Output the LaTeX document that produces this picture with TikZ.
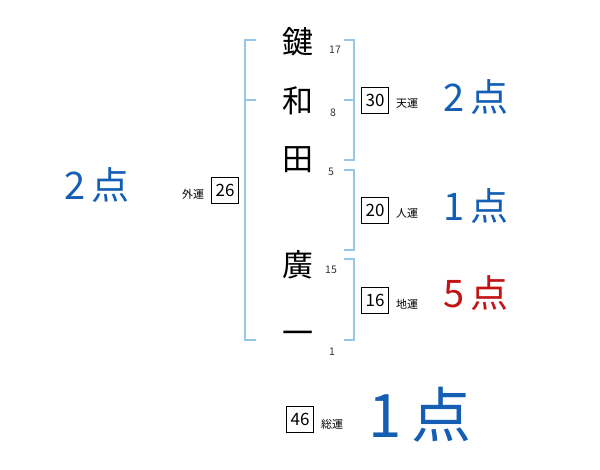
\documentclass[tikz,border=0pt]{standalone}
\usepackage{fontspec}
\setmainfont{Noto Sans CJK JP}
\definecolor{brk}{RGB}{150,198,232}
\definecolor{ptblue}{RGB}{20,95,180}
\definecolor{ptred}{RGB}{195,20,20}
\begin{document}
\begin{tikzpicture}[x=1pt,y=-1pt,
  namechar/.style={font=\fontsize{31}{31}\selectfont, inner sep=0pt},
  strokes/.style={font=\fontsize{10.5}{10.5}\selectfont, text=black!80, inner sep=0pt},
  numbox/.style={draw=black, line width=0.8pt, minimum width=27pt, minimum height=26pt, inner sep=0pt, font=\fontsize{17}{17}\selectfont},
  unlabel/.style={font=\fontsize{11}{11}\selectfont, inner sep=0pt},
  pts/.style={font=\fontsize{38}{38}\selectfont, inner sep=0pt},
  bracket/.style={draw=brk, line width=1.6pt}]
\useasboundingbox (0,0) rectangle (600,470);
% name characters
\node[namechar] (c1) at (298,42) {鍵};
\node[namechar] (c2) at (298,101) {和};
\node[namechar] (c3) at (298,160) {田};
\node[namechar] (c4) at (298,265) {廣};
\node[namechar] (c5) at (298,338) {一};
% stroke counts
\node[strokes] (s1) at (335,50) {17};
\node[strokes] (s2) at (333,113) {8};
\node[strokes] (s3) at (331,172) {5};
\node[strokes] (s4) at (331,270) {15};
\node[strokes] (s5) at (332,352) {1};
% outer bracket
\coordinate (ot) at (256,40);
\coordinate (ob) at (256,340);
\coordinate (om) at (256,100);
\draw[bracket] (ot) -- (245,40) -- (245,340) -- (ob);
\draw[bracket] (245,100) -- (om);
% right brackets
\coordinate (r1t) at (344,40);
\coordinate (r1b) at (344,160);
\coordinate (r1m) at (344,100);
\draw[bracket] (r1t) -- (354,40) -- (354,160) -- (r1b);
\draw[bracket] (354,100) -- (r1m);
\coordinate (r2t) at (344,170);
\coordinate (r2b) at (344,250);
\draw[bracket] (r2t) -- (354,170) -- (354,250) -- (r2b);
\coordinate (r3t) at (344,259);
\coordinate (r3b) at (344,340);
\draw[bracket] (r3t) -- (354,259) -- (354,340) -- (r3b);
% boxes and labels
\node[numbox] (b30) at (375,100) {30};
\node[unlabel] (l30) at (407,103) {天運};
\node[pts, text=ptblue] (p30) at (476,97) {2\hspace{6pt}点};
\node[numbox] (b20) at (375,210) {20};
\node[unlabel] (l20) at (407,213) {人運};
\node[pts, text=ptblue] (p20) at (476,206) {1\hspace{6pt}点};
\node[numbox] (b16) at (375,300) {16};
\node[unlabel] (l16) at (407,304) {地運};
\node[pts, text=ptred] (p16) at (476,293) {5\hspace{6pt}点};
\node[numbox] (b26) at (225,190) {26};
\node[unlabel] (l26) at (193,194) {外運};
\node[pts, text=ptblue] (p26) at (97,185) {2\hspace{6pt}点};
\node[numbox] (b46) at (300,419) {46};
\node[unlabel] (l46) at (332,424) {総運};
\node[font=\fontsize{60}{60}\selectfont, inner sep=0pt, text=ptblue] (p46) at (420,415) {1\hspace{10pt}点};
\end{tikzpicture}
\end{document}
